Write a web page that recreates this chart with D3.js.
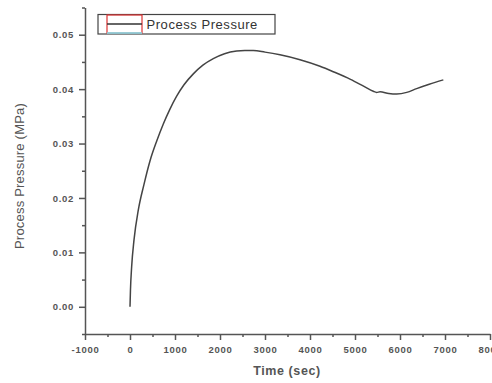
<!DOCTYPE html>
<html>
<head>
<meta charset="utf-8">
<script src="https://cdn.jsdelivr.net/npm/d3@7"></script>
<style>
  body { margin: 0; background: #fff; }
  text { font-family: "Liberation Sans", Arial, sans-serif; }
</style>
</head>
<body>
<script>
const width = 492, height = 383;

// data
const timeSec = [0, 10, 37, 89, 185, 311, 444, 600, 740, 880, 1037, 1200, 1407, 1620, 1851, 2100, 2370, 2550, 2740, 3000, 3333, 3778, 4222, 4518, 4900, 5200, 5407, 5480, 5556, 5750, 5926, 6150, 6370, 6650, 6963];
const pressure = [0.0000, 0.0030, 0.0074, 0.0123, 0.0178, 0.0225, 0.0268, 0.0306, 0.0336, 0.0362, 0.0387, 0.0408, 0.0428, 0.0444, 0.0456, 0.0465, 0.0470, 0.0471, 0.0471, 0.0468, 0.0463, 0.0454, 0.0442, 0.0432, 0.0418, 0.0405, 0.0396, 0.0394, 0.0395, 0.0392, 0.0391, 0.0394, 0.0401, 0.0409, 0.0417];
const xTicks = [-1000, 0, 1000, 2000, 3000, 4000, 5000, 6000, 7000, 8000];
const yTicks = [0.00, 0.01, 0.02, 0.03, 0.04, 0.05];
const seriesName = "Process Pressure";

const svg = d3.select("body").append("svg").attr("width", width).attr("height", height);

const x = d3.scaleLinear().domain([-1000, 8000]).range([85, 490]);
const y = d3.scaleLinear().domain([-0.005, 0.055]).range([334, 7.5]);

const axisColor = "#555", textColor = "#555";

// minor ticks
const xMinor = d3.range(-1000, 8001, 500).filter(d => d % 1000 !== 0);
const yMinor = d3.range(-0.005, 0.0551, 0.005).filter(d => Math.abs(Math.round(d * 100) - d * 100) > 1e-6);

svg.append("g").attr("transform", `translate(0,${y.range()[0]})`)
    .call(d3.axisBottom(x).tickValues(xTicks).tickSize(6).tickSizeOuter(0).tickPadding(6)
        .tickFormat(d => String(d)));
svg.append("g").attr("transform", `translate(${x.range()[0]},0)`)
    .call(d3.axisLeft(y).tickValues(yTicks).tickSize(6).tickSizeOuter(0).tickPadding(5).tickFormat(d3.format(".2f")));

svg.append("g").attr("transform", `translate(0,${y.range()[0]})`)
    .call(d3.axisBottom(x).tickValues(xMinor).tickSize(3).tickSizeOuter(0).tickFormat(""))
    .select(".domain").remove();
svg.append("g").attr("transform", `translate(${x.range()[0]},0)`)
    .call(d3.axisLeft(y).tickValues(yMinor).tickSize(3).tickSizeOuter(0).tickFormat(""))
    .select(".domain").remove();

svg.selectAll(".domain, .tick line").attr("stroke", axisColor).attr("stroke-width", 1.5);
svg.selectAll(".tick text").attr("fill", textColor).attr("font-size", 9.5).attr("font-weight", "bold")
    .attr("letter-spacing", 0.7);

// axis titles
svg.append("text").attr("x", 287).attr("y", 375).attr("text-anchor", "middle")
    .attr("font-size", 12.5).attr("font-weight", "bold").attr("fill", "#555").attr("letter-spacing", 0.6)
    .text("Time (sec)");
svg.append("text").attr("transform", "translate(24,176) rotate(-90)").attr("text-anchor", "middle")
    .attr("font-size", 13).attr("fill", "#555").attr("letter-spacing", 0.2)
    .text("Process Pressure (MPa)");

// curve
const line = d3.line().x((d, i) => x(timeSec[i])).y(d => y(d)).curve(d3.curveMonotoneX);
svg.append("path").datum(pressure).attr("d", line)
    .attr("fill", "none").attr("stroke", "#444").attr("stroke-width", 1.5);

// legend
const lg = svg.append("g");
lg.append("rect").attr("x", 98).attr("y", 14.5).attr("width", 177).attr("height", 19.5)
    .attr("fill", "#fff").attr("stroke", "#444").attr("stroke-width", 1.2);
lg.append("rect").attr("x", 107).attr("y", 15).attr("width", 35).attr("height", 18)
    .attr("fill", "none").attr("stroke", "#d33").attr("stroke-width", 1.2);
lg.append("line").attr("x1", 107).attr("x2", 142).attr("y1", 33).attr("y2", 33)
    .attr("stroke", "#7fe3f0").attr("stroke-width", 1.6);
lg.append("line").attr("x1", 107).attr("x2", 142).attr("y1", 24).attr("y2", 24)
    .attr("stroke", "#333").attr("stroke-width", 1.5);
lg.append("text").attr("x", 146.5).attr("y", 29).attr("font-size", 13).attr("fill", "#333")
    .attr("letter-spacing", 0.55).text(seriesName);
</script>
</body>
</html>
